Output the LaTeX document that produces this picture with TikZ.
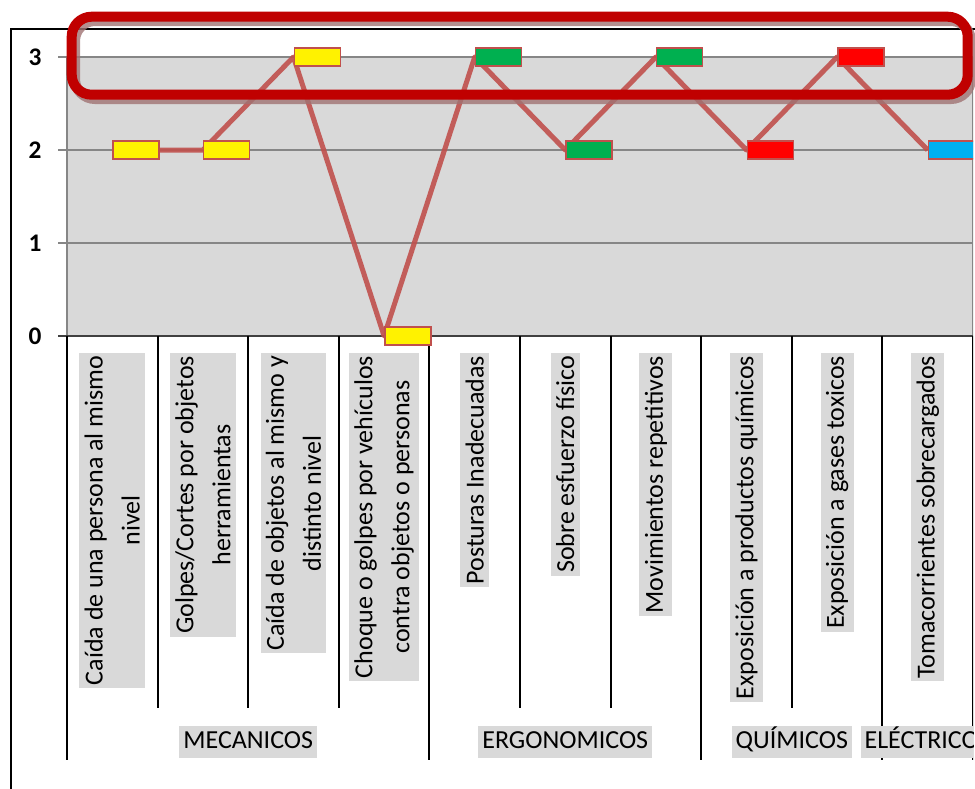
\documentclass[tikz,border=0pt]{standalone}
\usepackage{fontspec}
\setmainfont{Carlito}
\usepackage{tikz}
\definecolor{linered}{RGB}{192,80,77}
\definecolor{darkred}{RGB}{192,0,0}
\definecolor{shadowred}{RGB}{160,115,115}
\definecolor{chartgray}{RGB}{217,217,217}
\definecolor{gridgray}{RGB}{134,134,134}
\definecolor{riskgreen}{RGB}{0,176,80}
\definecolor{riskblue}{RGB}{0,176,240}

\begin{document}
\begin{tikzpicture}[x=0.75pt, y=-0.75pt,
   riskbox/.style={draw=linered, line width=1.1pt, minimum width=34.5pt, minimum height=13.5pt, inner sep=0pt, anchor=west},
   catlabel/.style={fill=chartgray, rotate=90, anchor=east, align=center, inner xsep=2pt, inner ysep=4pt, font=\fontsize{19.5pt}{27.75pt}\selectfont},
   grouplabel/.style={fill=chartgray, inner xsep=3pt, inner ysep=3pt, text height=14pt, text depth=4.5pt, font=\fontsize{19.5pt}{24pt}\selectfont},
   valuelabel/.style={font=\fontsize{19pt}{23pt}\selectfont\bfseries}]

   \useasboundingbox (0,0) rectangle (975,789);

   % outer frame
   \draw[line width=1.1pt] (11,789) -- (11,29) -- (975,29);

   \begin{scope}
   \clip (0,0) rectangle (973,789);

   % plot area and grid
   \fill[chartgray] (67,57) rectangle (973,336);
   \draw[gridgray, line width=1.1pt] (67,57) -- (67,336) (973,57) -- (973,336);
   \foreach \y in {57,150,243}
      \draw[gridgray, line width=1.2pt] (58,\y) -- (973,\y);
   \draw[black!75, line width=1.3pt] (58,336) -- (973,336);

   % category axis
   \foreach \x in {157.6,248.2,338.8,520,610.6,791.8}
      \draw[line width=1.5pt] (\x,336) -- (\x,708);
   \foreach \x in {67,429.4,701.2,882.4,973}
      \draw[line width=1.5pt] (\x,336) -- (\x,760);

   \draw
    (35,57) node[valuelabel](v3) {3}
    (35,150) node[valuelabel](v2) {2}
    (35,243) node[valuelabel](v1) {1}
    (35,336) node[valuelabel](v0) {0};

   \draw
    (112.3,353) node[catlabel](l1) {Caída de una persona al mismo\\nivel}
    (202.9,353) node[catlabel](l2) {Golpes/Cortes por objetos\\herramientas}
    (293.5,353) node[catlabel](l3) {Caída de objetos al mismo y\\distinto nivel}
    (384.1,353) node[catlabel](l4) {Choque o golpes por vehículos\\contra objetos o personas}
    (474.7,353) node[catlabel](l5) {Posturas Inadecuadas}
    (565.3,353) node[catlabel](l6) {Sobre esfuerzo físico}
    (655.9,353) node[catlabel](l7) {Movimientos repetitivos}
    (746.5,353) node[catlabel](l8) {Exposición a productos químicos}
    (837.1,353) node[catlabel](l9) {Exposición a gases toxicos}
    (927.7,353) node[catlabel](l10) {Tomacorrientes sobrecargados};

   \draw
    (248.2,742) node[grouplabel](g1) {MECANICOS}
    (565.3,742) node[grouplabel](g2) {ERGONOMICOS}
    (791.8,742) node[grouplabel](g3) {QUÍMICOS}
    (927.7,742) node[grouplabel](g4) {ELÉCTRICOS};

   % data points
   \coordinate (c1) at (112.3,150);
   \coordinate (c2) at (202.9,150);
   \coordinate (c3) at (293.5,57);
   \coordinate (c4) at (384.1,336);
   \coordinate (c5) at (474.7,57);
   \coordinate (c6) at (565.3,150);
   \coordinate (c7) at (655.9,57);
   \coordinate (c8) at (746.5,150);
   \coordinate (c9) at (837.1,57);
   \coordinate (c10) at (927.7,150);

   \draw[linered, line width=3.75pt, line join=round, opacity=0.9]
    (c1) -- (c2) -- (c3) -- (c4) -- (c5) -- (c6) -- (c7) -- (c8) -- (c9) -- (c10);

   \draw
    (c1) node[riskbox, fill=yellow](m1) {}
    (c2) node[riskbox, fill=yellow](m2) {}
    (c3) node[riskbox, fill=yellow](m3) {}
    (c4) node[riskbox, fill=yellow](m4) {}
    (c5) node[riskbox, fill=riskgreen](m5) {}
    (c6) node[riskbox, fill=riskgreen](m6) {}
    (c7) node[riskbox, fill=riskgreen](m7) {}
    (c8) node[riskbox, fill=red](m8) {}
    (c9) node[riskbox, fill=red](m9) {}
    (c10) node[riskbox, fill=riskblue](m10) {};
   \end{scope}

   % highlight of the level 3 risks
   \draw[shadowred, line width=7.5pt, rounded corners=15pt, opacity=0.8] (75,21) rectangle (971,99);
   \draw[darkred, line width=7.5pt, rounded corners=15pt] (71.7,16.7) rectangle (967.7,94.7);

\end{tikzpicture}
\end{document}
